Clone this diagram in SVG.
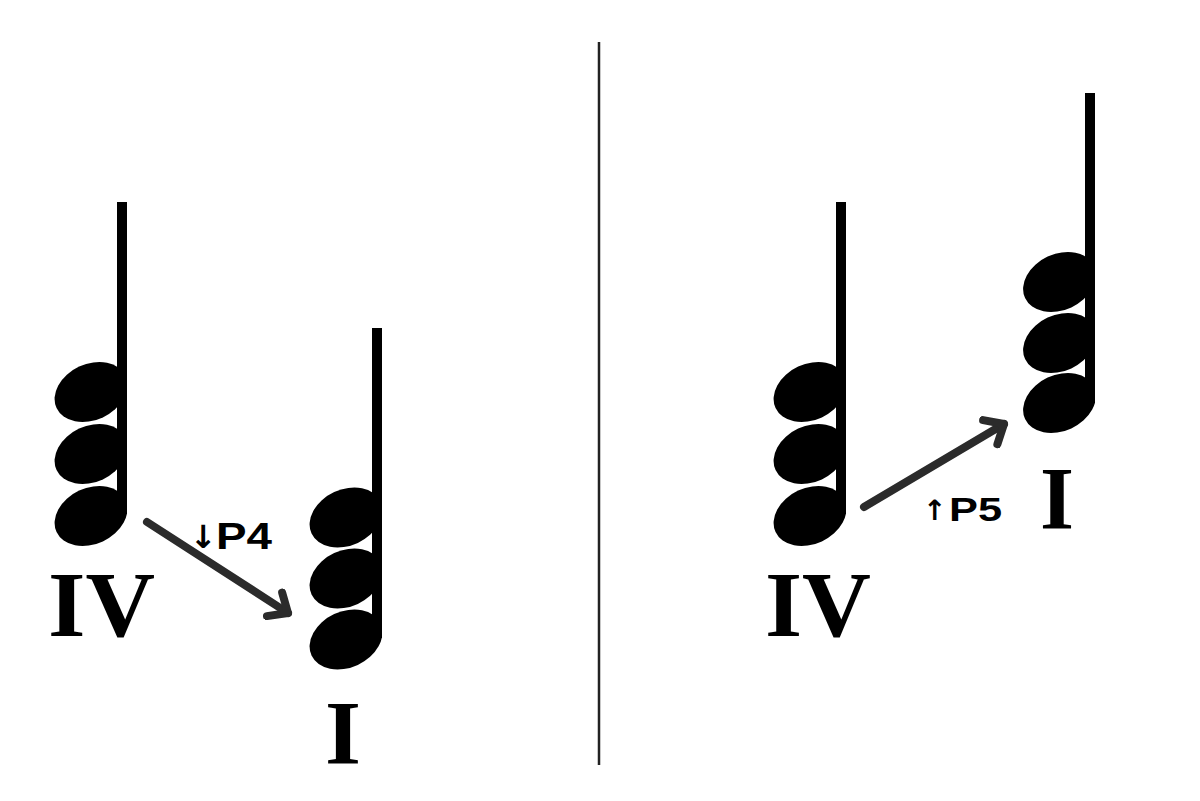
<svg xmlns="http://www.w3.org/2000/svg" width="1200" height="801" viewBox="0 0 1200 801">
<style>
.stem{fill:#000}
.head{fill:#000}
.roman{font-family:"Liberation Serif","Times New Roman",serif;font-weight:700;fill:#000}
.lbl{font-family:"Liberation Sans",Arial,sans-serif;font-weight:700;fill:#000}
.arr{font-family:"DejaVu Sans",sans-serif;font-weight:700;fill:#000}
.conn{fill:none;stroke:#2b2b2b;stroke-width:8;stroke-linecap:round;stroke-linejoin:round}
</style>
<defs>
<ellipse id="nh" class="head" cx="0" cy="0" rx="38" ry="28" transform="rotate(-25)"/>
<clipPath id="c1" clipPathUnits="userSpaceOnUse"><rect x="0" y="0" width="127" height="801"/></clipPath>
<clipPath id="c2" clipPathUnits="userSpaceOnUse"><rect x="0" y="0" width="382" height="801"/></clipPath>
<clipPath id="c3" clipPathUnits="userSpaceOnUse"><rect x="600" y="0" width="246" height="801"/></clipPath>
<clipPath id="c4" clipPathUnits="userSpaceOnUse"><rect x="900" y="0" width="195" height="801"/></clipPath>
<marker id="chev" markerUnits="userSpaceOnUse" viewBox="-24 -18 30 36" markerWidth="30" markerHeight="36" refX="0" refY="0" orient="auto">
<path d="M-16,-14 L0,0 L-16,14" fill="none" stroke="#2b2b2b" stroke-width="8" stroke-linecap="round" stroke-linejoin="round"/>
</marker>
</defs>
<rect width="1200" height="801" fill="#fff"/>
<line x1="599" y1="42" x2="599" y2="765" stroke="#222" stroke-width="2.5"/>

<g id="chord-left-IV">
<rect class="stem" x="117" y="202" width="10" height="312"/>
<g clip-path="url(#c1)">
<use href="#nh" transform="translate(91,392)"/>
<use href="#nh" transform="translate(91,454)"/>
<use href="#nh" transform="translate(91,516)"/>
</g>
<text class="roman" x="48" y="636" font-size="93" textLength="107" lengthAdjust="spacingAndGlyphs">IV</text>
</g>

<g id="chord-left-I">
<rect class="stem" x="372" y="328" width="10" height="310"/>
<g clip-path="url(#c2)">
<use href="#nh" transform="translate(346,517.5)"/>
<use href="#nh" transform="translate(346,578.5)"/>
<use href="#nh" transform="translate(346,639.5)"/>
</g>
<text class="roman" x="325" y="764" font-size="90" textLength="36" lengthAdjust="spacingAndGlyphs">I</text>
</g>

<g id="chord-right-IV">
<rect class="stem" x="836" y="202" width="10" height="312"/>
<g clip-path="url(#c3)">
<use href="#nh" transform="translate(810,392)"/>
<use href="#nh" transform="translate(810,454)"/>
<use href="#nh" transform="translate(810,516)"/>
</g>
<text class="roman" x="765" y="636" font-size="93" textLength="106" lengthAdjust="spacingAndGlyphs">IV</text>
</g>

<g id="chord-right-I">
<rect class="stem" x="1085" y="93" width="10" height="310"/>
<g clip-path="url(#c4)">
<use href="#nh" transform="translate(1059.5,282)"/>
<use href="#nh" transform="translate(1059.5,343)"/>
<use href="#nh" transform="translate(1059.5,403)"/>
</g>
<text class="roman" x="1040" y="528" font-size="89" textLength="34" lengthAdjust="spacingAndGlyphs">I</text>
</g>

<g id="connectors">
<line class="conn" x1="147" y1="522" x2="288" y2="613" marker-end="url(#chev)"/>
<line class="conn" x1="864" y1="507" x2="1004" y2="424" marker-end="url(#chev)"/>
</g>

<g id="label-P4">
<text class="arr" x="190" y="548" font-size="32">↓</text>
<text class="lbl" x="216" y="549" font-size="37" textLength="56" lengthAdjust="spacingAndGlyphs">P4</text>
</g>
<g id="label-P5">
<text class="arr" x="923" y="520" font-size="28">↑</text>
<text class="lbl" x="949" y="521" font-size="34" textLength="53" lengthAdjust="spacingAndGlyphs">P5</text>
</g>
</svg>
